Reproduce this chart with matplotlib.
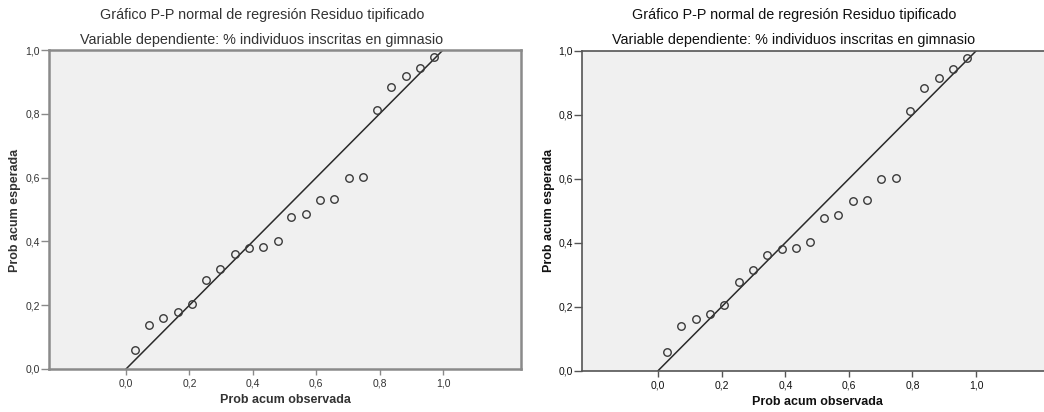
import matplotlib.pyplot as plt
from matplotlib.ticker import FuncFormatter

plt.rcParams['font.family'] = ['Liberation Sans', 'DejaVu Sans']

# --- datos ---
prob_obs = [0.028, 0.073, 0.118, 0.163, 0.208, 0.253, 0.298, 0.343, 0.388, 0.433, 0.478,
            0.522, 0.567, 0.612, 0.657, 0.702, 0.747, 0.792, 0.837, 0.882, 0.927, 0.972]
prob_esp = [0.058, 0.139, 0.160, 0.178, 0.204, 0.278, 0.315, 0.362, 0.380, 0.383, 0.401,
            0.478, 0.486, 0.529, 0.534, 0.599, 0.602, 0.811, 0.884, 0.917, 0.945, 0.979]
ticks = [0.0, 0.2, 0.4, 0.6, 0.8, 1.0]

titulo = "Gráfico P-P normal de regresión Residuo tipificado"
subtitulo = "Variable dependiente: % individuos inscritas en gimnasio"

W, H = 1044, 412
fig = plt.figure(figsize=(W / 100, H / 100), dpi=100)


def rect(l, t, r, b):
    return [l / W, 1 - b / H, (r - l) / W, (b - t) / H]


coma = FuncFormatter(lambda v, p: f"{v:.1f}".replace('.', ','))


def panel(box, xlim, cx, xc, xlab_y, ylab_x, txt, spine, lw, right_spine):
    ax = fig.add_axes(rect(*box))
    ax.set_facecolor('#f0f0f0')
    ax.plot([0, 1], [0, 1], color='#2a2a2a', lw=1.1, zorder=2)
    ax.plot(prob_obs, prob_esp, 'o', mfc='none', mec='#3a3a3a', ms=5.4, mew=1.0, zorder=3)
    ax.set_xlim(*xlim)
    ax.set_ylim(0, 1)
    ax.set_xticks(ticks)
    ax.set_yticks(ticks)
    ax.xaxis.set_major_formatter(coma)
    ax.yaxis.set_major_formatter(coma)
    for s in ax.spines.values():
        s.set_color(spine)
        s.set_linewidth(lw)
    ax.spines['right'].set_visible(right_spine)
    ax.tick_params(axis='y', length=6, width=1, color=spine, pad=0.5, labelsize=7.5, labelcolor=txt)
    ax.tick_params(axis='x', length=4, width=1, color=spine, pad=3, labelsize=7.5, labelcolor=txt)
    fig.text(cx / W, 1 - 15 / H, titulo, ha='center', va='center', fontsize=10.4, color=txt)
    fig.text(cx / W, 1 - 40 / H, subtitulo, ha='center', va='center', fontsize=10.4, color=txt)
    fig.text(xc / W, 1 - xlab_y / H, "Prob acum observada", ha='center', va='center',
             fontsize=9, fontweight='bold', color=txt)
    fig.text(ylab_x / W, 1 - 210 / H, "Prob acum esperada", ha='center', va='center',
             rotation=90, fontsize=9, fontweight='bold', color=txt)
    return ax


# panel izquierdo (copia borrosa)
panel((49, 50, 521, 369), (-0.243, 1.246), 262, 285, 400, 15, '#333333', '#8a8a8a', 1.8, True)
# panel derecho
panel((582, 51, 1044, 370.5), (-0.240, 1.214), 794, 817, 402, 549, '#111111', '#555555', 1.2, False)

fig.savefig('out.png', dpi=100)
